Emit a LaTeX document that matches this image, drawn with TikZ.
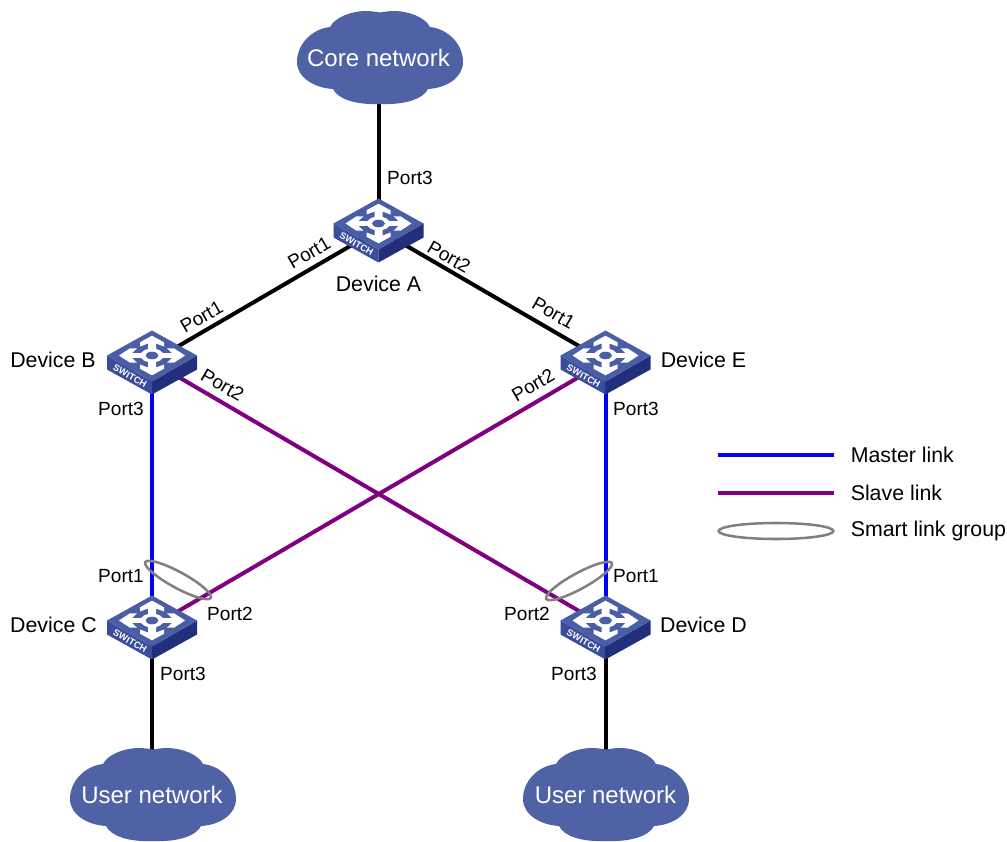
\documentclass[tikz,border=0pt]{standalone}
\usepackage{fontspec}
\setmainfont{Liberation Sans}
\usetikzlibrary{shapes.geometric,backgrounds}
\definecolor{cloudblue}{HTML}{4F62A5}
\definecolor{swtop}{HTML}{4A5EA6}
\definecolor{swleft}{HTML}{3A4C9C}
\definecolor{swright}{HTML}{212F7C}
\definecolor{masterc}{HTML}{0000FF}
\definecolor{slavec}{HTML}{800080}
\definecolor{groupc}{HTML}{808080}
\tikzset{
  x=0.75pt,y=-0.75pt,
  devpoint/.style={inner sep=0pt,minimum size=0pt,outer sep=0pt},
  portlabel/.style={font=\fontsize{14.3}{16}\selectfont,inner sep=0pt},
  devlabel/.style={font=\fontsize{16}{18}\selectfont,inner sep=0pt},
  legendlabel/.style={font=\fontsize{16}{18}\selectfont,inner sep=0pt,anchor=west},
  cloudlabel/.style={font=\fontsize{18}{20}\selectfont,text=white,inner sep=0pt},
  trunk/.style={line width=3pt,black},
  master/.style={line width=3pt,masterc},
  slave/.style={line width=3pt,slavec},
  group/.style={draw=groupc,line width=1.9pt,ellipse,inner sep=0pt},
  legendend/.style={inner sep=0pt,minimum size=0pt},
  switch/.pic={
    % origin = line centre; top face centre is 6 px above
    \begin{scope}[shift={(0,-6)}]
      \fill[swleft] (-45,0) -- (0,26) -- (0,39) -- (-45,14) -- cycle;
      \fill[swright] (45,0) -- (0,26) -- (0,39) -- (45,14) -- cycle;
      \fill[swtop] (0,-25) -- (45,0) -- (0,26) -- (-45,0) -- cycle;
      \begin{scope}[yscale=0.6]
        \foreach \r in {0,90,180,270}
          \fill[white,rotate=\r] (9,-4) -- (20,-4) -- (15,-12) -- (22,-12) -- (33,0) -- (22,12) -- (15,12) -- (20,4) -- (9,4) -- cycle;
      \end{scope}
      \fill[white] (0,0) ellipse [x radius=11.5,y radius=7];
      \fill[swtop] (0,0) ellipse [x radius=6.5,y radius=3.8];
      \node[text=white,font=\fontsize{7}{8}\bfseries\selectfont,inner sep=0pt,rotate=-29] at (-22,20.5) {SWITCH};
    \end{scope}
  },
  netcloud/.pic={
    \fill[cloudblue] (-83,4)
      .. controls (-83,-14) and (-68,-29) .. (-50,-31)
      .. controls (-45,-41) and (-28,-47) .. (-14,-47)
      .. controls (-8,-47) and (-4,-46) .. (0,-45.5)
      .. controls (4,-46) and (8,-47) .. (14,-47)
      .. controls (28,-47) and (45,-41) .. (50,-31)
      .. controls (68,-29) and (83,-14) .. (83,4)
      .. controls (83,20) and (66,30) .. (48,31)
      .. controls (43,41) and (25,47) .. (0,46)
      .. controls (-25,47) and (-42,41) .. (-47,31)
      .. controls (-65,30) and (-83,20) .. (-83,4) -- cycle;
  }
}
\begin{document}
\begin{tikzpicture}
\useasboundingbox (0,0) rectangle (1007,842);
% devices
\node[devpoint] (a) at (378.5,229.5) {};
\node[devpoint] (b) at (152,361.5) {};
\node[devpoint] (e) at (605.5,361.5) {};
\node[devpoint] (c) at (152,626.5) {};
\node[devpoint] (d) at (605.5,626.5) {};
\foreach \n in {a,b,e,c,d} \pic at (\n) {switch};
% clouds
\pic at (380,58) {netcloud};
\pic at (153,795) {netcloud};
\pic at (606,795) {netcloud};
\node[cloudlabel] (core) at (378.5,58) {Core network};
\node[cloudlabel] (userl) at (152,795) {User network};
\node[cloudlabel] (userr) at (605.5,795) {User network};
% connectors under the shapes
\begin{scope}[on background layer]
  \fill[white] (0,0) rectangle (1007,842);
  \draw[trunk] (core.center) -- (a.center);
  \draw[trunk] (a.center) -- (b.center);
  \draw[trunk] (a.center) -- (e.center);
  \draw[master] (b.center) -- (c.center);
  \draw[master] (e.center) -- (d.center);
  \draw[slave] (b.center) -- (d.center);
  \draw[slave] (e.center) -- (c.center);
  \draw[trunk] (c.center) -- (userl.center);
  \draw[trunk] (d.center) -- (userr.center);
\end{scope}
% smart link groups
\node[group,minimum width=56pt,minimum height=12pt,rotate=-28.6] (gc) at (178,580) {};
\node[group,minimum width=56pt,minimum height=12pt,rotate=28.6] (gd) at (579,581) {};
% device labels
\node[devlabel] (la) at (378.5,284) {Device A};
\node[devlabel] (lb) at (53,359.5) {Device B};
\node[devlabel] (le) at (703.5,359.5) {Device E};
\node[devlabel] (lc) at (53.5,625) {Device C};
\node[devlabel] (ld) at (703.5,625) {Device D};
% port labels
\node[portlabel] (pa3) at (410,178) {Port3};
\node[portlabel,rotate=30] (pa1) at (309,253) {Port1};
\node[portlabel,rotate=-30] (pa2) at (449,257) {Port2};
\node[portlabel,rotate=30] (pb1) at (201.5,317) {Port1};
\node[portlabel,rotate=-30] (pb2) at (222.5,385) {Port2};
\node[portlabel] (pb3) at (121,409) {Port3};
\node[portlabel,rotate=-30] (pe1) at (553.5,313) {Port1};
\node[portlabel,rotate=30] (pe2) at (533,385) {Port2};
\node[portlabel] (pe3) at (636,409) {Port3};
\node[portlabel] (pc1) at (121,576) {Port1};
\node[portlabel] (pc2) at (230,614) {Port2};
\node[portlabel] (pc3) at (183,674) {Port3};
\node[portlabel] (pd1) at (636,576) {Port1};
\node[portlabel] (pd2) at (527,614) {Port2};
\node[portlabel] (pd3) at (574,674) {Port3};
% legend
\node[legendend] (m1) at (718,455) {};
\node[legendend] (m2) at (834,455) {};
\node[legendend] (s1) at (718,493) {};
\node[legendend] (s2) at (834,493) {};
\draw[master] (m1) -- (m2);
\draw[slave] (s1) -- (s2);
\node[group,minimum width=86pt,minimum height=12pt] (lg) at (776,531) {};
\node[legendlabel] (tm) at (850.5,455) {Master link};
\node[legendlabel] (ts) at (850.5,493) {Slave link};
\node[legendlabel] (tg) at (850.5,531) {Smart link group};
\end{tikzpicture}
\end{document}
